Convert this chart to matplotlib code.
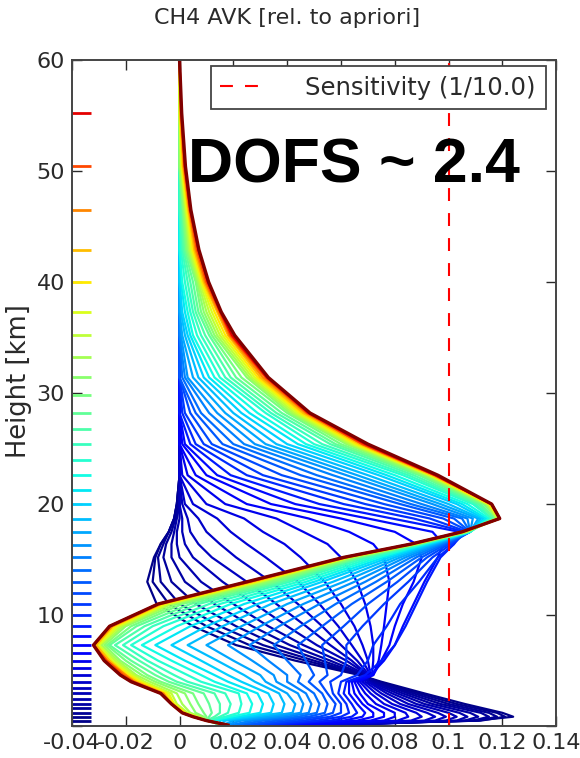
import numpy as np
import matplotlib
matplotlib.use('Agg')
import matplotlib.pyplot as plt

# retrieval levels [km] (last one sits above the plotted range)
level_km = [0.51, 0.84, 1.2, 1.6, 2.0, 2.46, 2.95, 3.45, 4.0, 4.6, 5.2, 5.86, 6.55,
            7.3, 8.1, 9.0, 10.0, 10.96, 11.95, 12.95, 14.05, 15.2, 16.35, 17.5, 18.7,
            20.0, 21.3, 22.6, 24.0, 25.4, 26.8, 28.2, 29.8, 31.4, 33.2, 35.2, 37.3,
            40.0, 42.9, 46.5, 50.4, 55.2, 60.5]

height_km = [0.1, 0.5, 0.85, 1.2, 2.0, 2.95, 4.0, 4.6, 5.9, 7.3, 9.0, 11.0, 13.0,
             15.2, 16.4, 17.5, 18.7, 20.0, 22.6, 25.4, 28.2, 31.4, 35.2, 37.3, 40.0,
             42.9, 46.5, 50.4, 55.2, 60.0]

# one list per height, one value per level (bottom level first)
avk_at_height = [
    [0.030, 0.040, 0.048, 0.054, 0.058, 0.060, 0.060, 0.059, 0.057, 0.054, 0.051, 0.048, 0.045,
     0.042, 0.039, 0.036, 0.033, 0.030, 0.027, 0.024, 0.021, 0.019, 0.017, 0.016, 0.015, 0.015,
     0.015, 0.015, 0.015, 0.016, 0.016, 0.016, 0.017, 0.017, 0.017, 0.017, 0.018, 0.018, 0.018,
     0.018, 0.018, 0.018, 0.018],
    [0.110, 0.112, 0.111, 0.109, 0.106, 0.103, 0.099, 0.095, 0.091, 0.086, 0.081, 0.076, 0.071,
     0.066, 0.061, 0.056, 0.051, 0.046, 0.041, 0.036, 0.031, 0.027, 0.023, 0.020, 0.017, 0.015,
     0.013, 0.012, 0.011, 0.011, 0.010, 0.010, 0.010, 0.010, 0.010, 0.010, 0.010, 0.010, 0.010,
     0.010, 0.010, 0.010, 0.010],
    [0.124, 0.121, 0.118, 0.115, 0.111, 0.107, 0.103, 0.099, 0.095, 0.090, 0.085, 0.080, 0.076,
     0.072, 0.068, 0.064, 0.060, 0.056, 0.052, 0.048, 0.044, 0.040, 0.036, 0.032, 0.028, 0.025,
     0.022, 0.019, 0.017, 0.015, 0.013, 0.011, 0.010, 0.009, 0.008, 0.007, 0.006, 0.006, 0.005,
     0.005, 0.005, 0.005, 0.005],
    [0.120, 0.118, 0.115, 0.112, 0.108, 0.104, 0.100, 0.096, 0.092, 0.088, 0.084, 0.080, 0.076,
     0.072, 0.069, 0.066, 0.063, 0.060, 0.057, 0.054, 0.051, 0.048, 0.045, 0.042, 0.038, 0.034,
     0.030, 0.026, 0.022, 0.018, 0.015, 0.012, 0.009, 0.006, 0.004, 0.003, 0.002, 0.002, 0.001,
     0.001, 0.001, 0.001, 0.001],
    [0.106, 0.103, 0.100, 0.097, 0.094, 0.091, 0.088, 0.085, 0.082, 0.079, 0.076, 0.073, 0.070,
     0.068, 0.066, 0.064, 0.062, 0.060, 0.058, 0.055, 0.052, 0.049, 0.046, 0.043, 0.039, 0.035,
     0.031, 0.027, 0.023, 0.019, 0.015, 0.011, 0.007, 0.004, 0.001, -0.001, -0.002, -0.002, -0.003,
     -0.003, -0.003, -0.003, -0.003],
    [0.091, 0.089, 0.087, 0.085, 0.083, 0.081, 0.079, 0.077, 0.075, 0.073, 0.071, 0.069, 0.067,
     0.065, 0.063, 0.061, 0.059, 0.057, 0.055, 0.053, 0.050, 0.047, 0.044, 0.040, 0.037, 0.033,
     0.029, 0.025, 0.022, 0.017, 0.013, 0.009, 0.005, 0.002, -0.001, -0.003, -0.004, -0.005, -0.006,
     -0.006, -0.007, -0.007, -0.007],
    [0.075, 0.074, 0.073, 0.073, 0.072, 0.071, 0.070, 0.070, 0.069, 0.068, 0.067, 0.066, 0.065,
     0.064, 0.063, 0.062, 0.060, 0.056, 0.052, 0.048, 0.044, 0.040, 0.036, 0.032, 0.028, 0.023,
     0.018, 0.013, 0.008, 0.003, -0.001, -0.004, -0.007, -0.009, -0.011, -0.013, -0.014, -0.015, -0.016,
     -0.017, -0.017, -0.018, -0.018],
    [0.067, 0.0675, 0.068, 0.0685, 0.069, 0.0695, 0.070, 0.070, 0.0705, 0.071, 0.071, 0.0715, 0.072,
     0.072, 0.071, 0.069, 0.066, 0.060, 0.055, 0.050, 0.045, 0.040, 0.035, 0.030, 0.024, 0.018,
     0.013, 0.008, 0.003, -0.002, -0.006, -0.009, -0.012, -0.014, -0.016, -0.017, -0.018, -0.019, -0.020,
     -0.020, -0.021, -0.022, -0.022],
    [0.043, 0.047, 0.050, 0.053, 0.056, 0.059, 0.062, 0.064, 0.066, 0.068, 0.070, 0.072, 0.074,
     0.075, 0.076, 0.075, 0.070, 0.062, 0.054, 0.047, 0.040, 0.033, 0.027, 0.020, 0.014, 0.008,
     0.002, -0.003, -0.008, -0.012, -0.015, -0.018, -0.020, -0.022, -0.023, -0.024, -0.025, -0.026, -0.026,
     -0.027, -0.027, -0.028, -0.028],
    [0.021, 0.026, 0.031, 0.036, 0.041, 0.046, 0.051, 0.056, 0.060, 0.064, 0.068, 0.072, 0.075,
     0.078, 0.080, 0.080, 0.072, 0.062, 0.053, 0.044, 0.035, 0.026, 0.018, 0.010, 0.003, -0.003,
     -0.009, -0.014, -0.018, -0.021, -0.024, -0.026, -0.027, -0.028, -0.029, -0.030, -0.030, -0.031, -0.031,
     -0.032, -0.032, -0.032, -0.032],
    [0.005, 0.010, 0.015, 0.021, 0.027, 0.033, 0.040, 0.047, 0.053, 0.059, 0.065, 0.071, 0.076,
     0.080, 0.083, 0.084, 0.077, 0.068, 0.061, 0.053, 0.045, 0.037, 0.030, 0.023, 0.016, 0.010,
     0.004, -0.001, -0.006, -0.010, -0.013, -0.016, -0.018, -0.020, -0.021, -0.022, -0.023, -0.024, -0.025,
     -0.025, -0.026, -0.026, -0.026],
    [-0.0085, -0.004, 0.000, 0.006, 0.013, 0.020, 0.028, 0.036, 0.044, 0.052, 0.060, 0.069, 0.077,
     0.083, 0.087, 0.088, 0.082, 0.076, 0.070, 0.064, 0.058, 0.052, 0.046, 0.040, 0.034, 0.029,
     0.024, 0.019, 0.015, 0.011, 0.007, 0.004, 0.001, -0.001, -0.003, -0.004, -0.005, -0.006, -0.007,
     -0.007, -0.008, -0.008, -0.008],
    [-0.012, -0.010, -0.007, -0.003, 0.002, 0.008, 0.016, 0.025, 0.034, 0.044, 0.054, 0.066, 0.078,
     0.087, 0.091, 0.092, 0.089, 0.085, 0.081, 0.077, 0.073, 0.069, 0.065, 0.061, 0.057, 0.053,
     0.050, 0.047, 0.044, 0.041, 0.039, 0.037, 0.035, 0.033, 0.031, 0.030, 0.029, 0.028, 0.027,
     0.026, 0.026, 0.025, 0.025],
    [-0.0095, -0.009, -0.008, -0.006, -0.003, 0.000, 0.005, 0.012, 0.021, 0.032, 0.045, 0.060, 0.076,
     0.090, 0.096, 0.097, 0.096, 0.094, 0.092, 0.090, 0.088, 0.086, 0.084, 0.082, 0.080, 0.078,
     0.076, 0.074, 0.072, 0.070, 0.068, 0.067, 0.066, 0.065, 0.064, 0.063, 0.063, 0.062, 0.062,
     0.062, 0.061, 0.061, 0.061],
    [-0.007, -0.007, -0.006, -0.005, -0.003, -0.001, 0.002, 0.007, 0.015, 0.025, 0.039, 0.055, 0.072,
     0.088, 0.098, 0.102, 0.102, 0.101, 0.100, 0.099, 0.098, 0.097, 0.096, 0.095, 0.094, 0.093,
     0.092, 0.091, 0.090, 0.090, 0.089, 0.089, 0.088, 0.088, 0.088, 0.087, 0.087, 0.087, 0.087,
     0.086, 0.086, 0.086, 0.086],
    [-0.004, -0.004, -0.004, -0.003, -0.002, -0.001, 0.001, 0.004, 0.010, 0.019, 0.031, 0.046, 0.063,
     0.080, 0.094, 0.104, 0.106, 0.107, 0.108, 0.108, 0.108, 0.108, 0.108, 0.108, 0.108, 0.108,
     0.108, 0.108, 0.108, 0.107, 0.107, 0.107, 0.107, 0.106, 0.106, 0.106, 0.106, 0.106, 0.105,
     0.105, 0.105, 0.105, 0.105],
    [-0.002, -0.002, -0.002, -0.0015, -0.001, 0.000, 0.001, 0.003, 0.007, 0.014, 0.024, 0.036, 0.048,
     0.060, 0.070, 0.079, 0.087, 0.093, 0.098, 0.102, 0.105, 0.107, 0.109, 0.111, 0.112, 0.113,
     0.114, 0.115, 0.116, 0.116, 0.117, 0.117, 0.118, 0.118, 0.118, 0.118, 0.119, 0.119, 0.119,
     0.119, 0.119, 0.119, 0.119],
    [-0.001, -0.001, -0.001, -0.0005, 0.000, 0.000, 0.000, 0.001, 0.002, 0.005, 0.010, 0.017, 0.025,
     0.034, 0.043, 0.052, 0.061, 0.069, 0.076, 0.082, 0.086, 0.090, 0.094, 0.097, 0.100, 0.103,
     0.105, 0.107, 0.109, 0.110, 0.111, 0.112, 0.113, 0.114, 0.114, 0.115, 0.115, 0.115, 0.116,
     0.116, 0.116, 0.116, 0.116],
    [0.0] * 10 + [0.001, 0.003, 0.006, 0.010, 0.014, 0.019, 0.025, 0.031, 0.038, 0.045, 0.051,
                  0.057, 0.062, 0.066, 0.070, 0.074, 0.077, 0.080, 0.083, 0.085, 0.087, 0.089,
                  0.090, 0.091, 0.092, 0.093, 0.093, 0.094, 0.094, 0.095, 0.095, 0.095, 0.096],
    [0.0] * 13 + [0.001, 0.002, 0.004, 0.006, 0.009, 0.012, 0.016, 0.020, 0.024, 0.028, 0.032,
                  0.036, 0.040, 0.044, 0.047, 0.050, 0.053, 0.056, 0.058, 0.060, 0.062, 0.063,
                  0.064, 0.065, 0.066, 0.067, 0.068, 0.068, 0.069, 0.070],
    [0.0] * 16 + [0.001, 0.002, 0.004, 0.006, 0.008, 0.011, 0.014, 0.017, 0.020, 0.023, 0.026,
                  0.029, 0.032, 0.034, 0.036, 0.038, 0.040, 0.041, 0.042, 0.043, 0.044, 0.045,
                  0.046, 0.047, 0.0475, 0.048, 0.0485],
    [0.0] * 20 + [0.001, 0.002, 0.003, 0.005, 0.007, 0.009, 0.011, 0.013, 0.015, 0.017, 0.019,
                  0.021, 0.023, 0.025, 0.026, 0.027, 0.028, 0.029, 0.030, 0.031, 0.032, 0.0325,
                  0.033],
    [0.0] * 22 + [0.0005, 0.001, 0.002, 0.003, 0.004, 0.005, 0.0065, 0.008, 0.0095, 0.011, 0.012,
                  0.013, 0.014, 0.015, 0.016, 0.017, 0.018, 0.0185, 0.019, 0.0195, 0.0205],
    [0.0] * 24 + [0.0005, 0.001, 0.002, 0.003, 0.004, 0.005, 0.006, 0.007, 0.008, 0.009, 0.010,
                  0.011, 0.012, 0.013, 0.014, 0.0145, 0.015, 0.0152, 0.0155],
    [0.0] * 26 + [0.0005, 0.001, 0.002, 0.003, 0.004, 0.005, 0.006, 0.0065, 0.007, 0.0075, 0.008,
                  0.0085, 0.009, 0.0095, 0.010, 0.0105, 0.0108],
    [0.0] * 28 + [0.0005, 0.001, 0.0015, 0.002, 0.0025, 0.003, 0.0035, 0.004, 0.0045, 0.005, 0.0055,
                  0.006, 0.0065, 0.007, 0.0072],
    [0.0] * 30 + [0.0005, 0.001, 0.0013, 0.0016, 0.002, 0.0023, 0.0026, 0.003, 0.0033, 0.0036,
                  0.0038, 0.004, 0.0042],
    [0.0] * 34 + [0.0004, 0.0006, 0.0008, 0.001, 0.0013, 0.0016, 0.0018, 0.002, 0.0022],
    [0.0] * 37 + [0.0002, 0.0003, 0.0004, 0.0006, 0.0007, 0.0008],
    [0.0] * 43,
]

sens_x = 0.1
xticks = [-0.04, -0.02, 0.0, 0.02, 0.04, 0.06, 0.08, 0.1, 0.12, 0.14]
xtick_labels = ['-0.04', '-0.02', '0', '0.02', '0.04', '0.06', '0.08', '0.1', '0.12', '0.14']
yticks = [0, 10, 20, 30, 40, 50, 60]
ytick_labels = ['', '10', '20', '30', '40', '50', '60']

avk = np.array(avk_at_height).T
top = max(level_km)

fig = plt.figure(figsize=(5.8, 7.58), dpi=100)
ax = fig.add_axes([0.124, 0.042, 0.835, 0.879])

for i, h in enumerate(level_km):
    c = plt.cm.jet(h / top)
    lw = 2.4 if i == len(level_km) - 1 else 1.6
    ax.plot(avk[i], height_km, color=c, lw=lw, solid_joinstyle='round')
    ax.plot([-0.04, -0.0328], [h, h], color=c, lw=2.0, solid_capstyle='butt')

ax.axvline(sens_x, color='red', ls=(0, (6.2, 5.8)), lw=1.5, label='Sensitivity (1/10.0)')

ax.set_xlim(-0.04, 0.14)
ax.set_ylim(0, 60)
ax.set_xticks(xticks)
ax.set_xticklabels(xtick_labels)
ax.set_yticks(yticks)
ax.set_yticklabels(ytick_labels)
ax.tick_params(direction='in', top=True, right=True, length=7, width=1,
               labelsize=16, colors='#2a2a2a', pad=5)
for s in ax.spines.values():
    s.set_color('#444444')
    s.set_linewidth(1.4)

ax.set_ylabel('Height [km]', fontsize=18.5, color='#2a2a2a')
ax.yaxis.set_label_coords(-0.082, 0.518)
fig.text(0.495, 0.976, 'CH4 AVK [rel. to apriori]', fontsize=16, color='#2a2a2a',
         ha='center', va='center')

leg = ax.legend(loc='upper right', bbox_to_anchor=(0.978, 0.991), fontsize=17.5,
                fancybox=False, framealpha=1, edgecolor='#444444', handlelength=1.6,
                handletextpad=1.9, borderpad=0.4, borderaxespad=0.0)
leg.get_frame().set_linewidth(1.3)
for t in leg.get_texts():
    t.set_color('#2a2a2a')

ax.text(0.0032, 49.0, 'DOFS ~ 2.4', fontsize=45, fontweight='bold',
        family=['Liberation Sans', 'DejaVu Sans'], color='black', va='baseline')

fig.savefig('out.png', dpi=100)
